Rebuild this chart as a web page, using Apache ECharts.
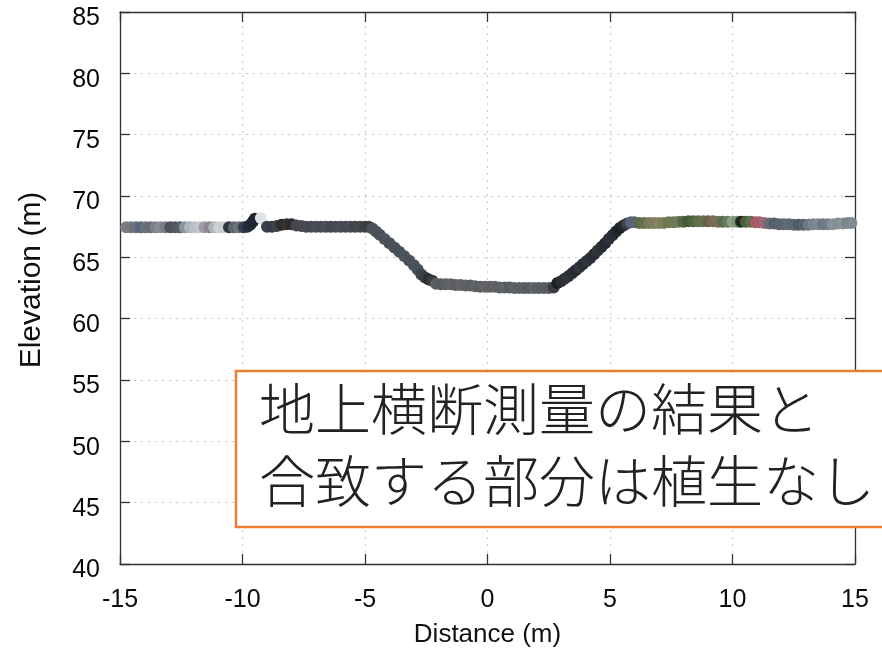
<!DOCTYPE html>
<html>
<head>
<meta charset="utf-8">
<script src="https://cdn.jsdelivr.net/npm/echarts@6/dist/echarts.min.js"></script>
<style>
html,body{margin:0;padding:0;background:#fff;}
#chart{width:882px;height:656px;}
</style>
</head>
<body>
<div id="chart"></div>
<script>
// Distance (m) of each surveyed point
const distance = [
  -14.75,-14.55,-14.35,-14.15,-13.95,-13.75,-13.55,-13.35,-13.15,-12.95,
  -12.75,-12.55,-12.35,-12.15,-11.95,-11.75,-11.55,-11.35,-11.15,-10.95,
  -10.75,-10.55,-10.35,-10.15,-9.95,-9.8,-9.68,-9.58,-9.5,-9.25,
  -9.0,-8.8,-8.6,-8.4,-8.2,-8.0,-7.8,-7.6,-7.4,-7.2,
  -7.0,-6.8,-6.6,-6.4,-6.2,-6.0,-5.8,-5.6,-5.4,-5.2,
  -5.0,-4.85,-4.7,-4.55,-4.4,-4.2,-4.0,-3.8,-3.6,-3.4,
  -3.2,-3.0,-2.85,-2.7,-2.55,-2.4,-2.25,-2.1,-1.9,-1.7,
  -1.5,-1.3,-1.1,-0.9,-0.7,-0.5,-0.3,-0.1,0.1,0.3,
  0.5,0.7,0.9,1.1,1.3,1.5,1.7,1.9,2.1,2.3,
  2.5,2.7,2.85,3.0,3.15,3.3,3.45,3.6,3.75,3.9,
  4.05,4.2,4.35,4.5,4.65,4.8,4.95,5.1,5.25,5.4,
  5.55,5.7,5.85,6.0,6.2,6.4,6.6,6.8,7.0,7.2,
  7.4,7.6,7.8,8.0,8.2,8.4,8.6,8.8,9.0,9.2,
  9.4,9.6,9.8,10.0,10.2,10.35,10.55,10.75,10.95,11.1,
  11.3,11.5,11.7,11.9,12.1,12.3,12.5,12.7,12.9,13.1,
  13.3,13.5,13.7,13.9,14.1,14.3,14.5,14.7,14.85
];
// Elevation (m) of each surveyed point
const elevation = [
  67.45,67.45,67.45,67.45,67.45,67.45,67.45,67.45,67.45,67.45,
  67.45,67.45,67.45,67.45,67.45,67.45,67.45,67.45,67.45,67.45,
  67.45,67.45,67.45,67.45,67.45,67.5,67.65,67.9,68.15,68.2,
  67.5,67.5,67.55,67.65,67.7,67.7,67.6,67.55,67.5,67.5,
  67.5,67.5,67.5,67.5,67.5,67.5,67.5,67.5,67.5,67.5,
  67.5,67.5,67.35,67.1,66.85,66.5,66.15,65.8,65.45,65.1,
  64.75,64.35,64.0,63.6,63.35,63.2,63.1,62.85,62.8,62.8,
  62.8,62.75,62.75,62.7,62.7,62.65,62.6,62.6,62.6,62.6,
  62.55,62.55,62.55,62.5,62.5,62.5,62.5,62.5,62.5,62.5,
  62.5,62.55,62.9,63.05,63.25,63.45,63.7,63.95,64.2,64.45,
  64.7,64.95,65.25,65.55,65.85,66.15,66.5,66.8,67.1,67.4,
  67.6,67.75,67.85,67.85,67.8,67.8,67.8,67.8,67.8,67.8,
  67.85,67.85,67.9,67.9,67.95,67.95,67.95,67.95,67.95,67.95,
  67.9,67.9,67.9,67.9,67.9,67.9,67.9,67.9,67.85,67.85,
  67.8,67.75,67.75,67.7,67.7,67.7,67.65,67.65,67.65,67.65,
  67.7,67.7,67.7,67.7,67.7,67.75,67.75,67.8,67.8
];
// Point-cloud colour of each point
const pointColors = [
  '#7c7c82','#76787e','#6c7078','#5a6680','#6a707c','#666c76','#7e8088','#8a8c92','#7a7c84','#4c515c',
  '#50555f','#585d68','#8c949c','#aab2ba','#b8bec6','#c2c6cc','#a09aa2','#8e8692','#b4b6bc','#cdd1d4',
  '#c8cccf','#2e3440','#5e646e','#6e747c','#3a4150','#283040','#222a36','#1f2630','#1e2430','#dce6e6',
  '#3a404a','#363c46','#3c424a','#2e2c2c','#3a3430','#2c2a2a','#44464c','#45484e','#484b52','#44484e',
  '#4a4d54','#464a50','#4a4e55','#44484f','#484c52','#4a4e54','#464a50','#4a4d53','#42464c','#464a50',
  '#3e4246','#3a3c40','#4a5058','#4c525a','#4a5058','#4e545c','#4a5058','#4c5259','#4a5058','#4e545b',
  '#4a5058','#4c5259','#4a5058','#3e4348','#3a3e42','#2a2e30','#3a3e42','#5a5e64','#56595e','#5c5e62',
  '#606266','#5a5c60','#626468','#5e6064','#5a5e62','#606266','#5c6064','#626466','#5e6064','#606266',
  '#5c6064','#606468','#585c60','#5e6266','#5a5e62','#5c6064','#585c62','#5e6266','#5a5e62','#5c6064',
  '#585c60','#3a3e40','#1e2224','#2a2e32','#2e3236','#303438','#2c3036','#262a30','#34383e','#2a2e36',
  '#30343c','#2c3038','#282c34','#30343c','#2a2e36','#262a32','#2e323a','#2a2e36','#22262e','#1e2228',
  '#262a30','#3a4250','#5a6478','#5a6478','#5c6848','#66704c','#7a7a5a','#7e7c5c','#868260','#7c7c58',
  '#6e7650','#72784e','#6a7a58','#50643e','#44583a','#4e6440','#5a7048','#607250','#6a6048','#766a52',
  '#7a6e58','#5e6a50','#6a7a60','#8aa080','#7a9070','#1e2a20','#4a5e40','#5a7048','#a65866','#b05868',
  '#9a6a74','#6a6a74','#56606a','#5a646e','#5c6670','#606a74','#5e6872','#4e5a66','#58626c','#6e7882',
  '#7a848e','#7e8890','#6e7882','#747e88','#8a9298','#848c94','#8a9298','#7a848c','#808a92'
];
const xTicks = { min: -15, max: 15, step: 5 };
const yTicks = { min: 40, max: 85, step: 5 };
const noteLines = ['地上横断測量の結果と', '合致する部分は植生なし'];

const points = distance.map((d, i) => [d, elevation[i]]);

const chart = echarts.init(document.getElementById('chart'), null, { renderer: 'canvas' });
const fam = 'Liberation Sans, Arial, sans-serif';
const gridLine = { show: true, lineStyle: { color: '#c8c8c8', type: [2, 5], width: 1 } };
const axisLineStyle = { show: true, onZero: false, lineStyle: { color: '#333', width: 1.3 } };
const tickStyle = { show: true, inside: true, length: 10, lineStyle: { color: '#333', width: 1.3 } };

chart.setOption({
  backgroundColor: '#fff',
  animation: false,
  grid: { left: 120, right: 27, top: 12, bottom: 92 },
  xAxis: [
    {
      type: 'value', position: 'bottom', min: xTicks.min, max: xTicks.max, interval: xTicks.step,
      name: 'Distance (m)', nameLocation: 'middle', nameGap: 58,
      nameTextStyle: { fontFamily: fam, fontSize: 26, color: '#111' },
      axisLine: axisLineStyle, axisTick: tickStyle, splitLine: gridLine,
      axisLabel: { margin: 24, fontFamily: fam, fontSize: 25, color: '#0a0a0a' }
    },
    {
      type: 'value', position: 'top', min: xTicks.min, max: xTicks.max, interval: xTicks.step,
      axisLine: axisLineStyle, axisTick: tickStyle, splitLine: { show: false },
      axisLabel: { show: false }
    }
  ],
  yAxis: [
    {
      type: 'value', position: 'left', min: yTicks.min, max: yTicks.max, interval: yTicks.step,
      name: 'Elevation (m)', nameLocation: 'middle', nameGap: 73,
      nameTextStyle: { fontFamily: fam, fontSize: 30, color: '#111', padding: [0, 0, 0, 16] },
      axisLine: axisLineStyle, axisTick: tickStyle, splitLine: gridLine,
      axisLabel: {
        margin: 20, fontFamily: fam, fontSize: 25, color: '#0a0a0a',
        verticalAlign: 'top', lineHeight: 13
      }
    },
    {
      type: 'value', position: 'right', min: yTicks.min, max: yTicks.max, interval: yTicks.step,
      axisLine: axisLineStyle, axisTick: tickStyle, splitLine: { show: false },
      axisLabel: { show: false }
    }
  ],
  series: [{
    type: 'scatter',
    xAxisIndex: 0, yAxisIndex: 0,
    data: points,
    symbolSize: 12,
    clip: false,
    itemStyle: {
      opacity: 1,
      color: p => pointColors[p.dataIndex]
    },
    z: 5
  }],
  graphic: [
    {
      type: 'rect', z: 100, zlevel: 1,
      shape: { x: 236, y: 371, width: 700, height: 156 },
      style: { fill: '#fff', stroke: '#ed7d31', lineWidth: 2.5 }
    },
    {
      type: 'text', z: 101, zlevel: 1,
      x: 259, y: 409,
      style: {
        text: noteLines[0], fill: '#222',
        font: '300 56px "Noto Sans CJK JP"',
        verticalAlign: 'middle'
      }
    },
    {
      type: 'text', z: 101, zlevel: 1,
      x: 259, y: 481,
      style: {
        text: noteLines[1], fill: '#222',
        font: '300 56px "Noto Sans CJK JP"',
        verticalAlign: 'middle'
      }
    }
  ]
});
</script>
</body>
</html>
